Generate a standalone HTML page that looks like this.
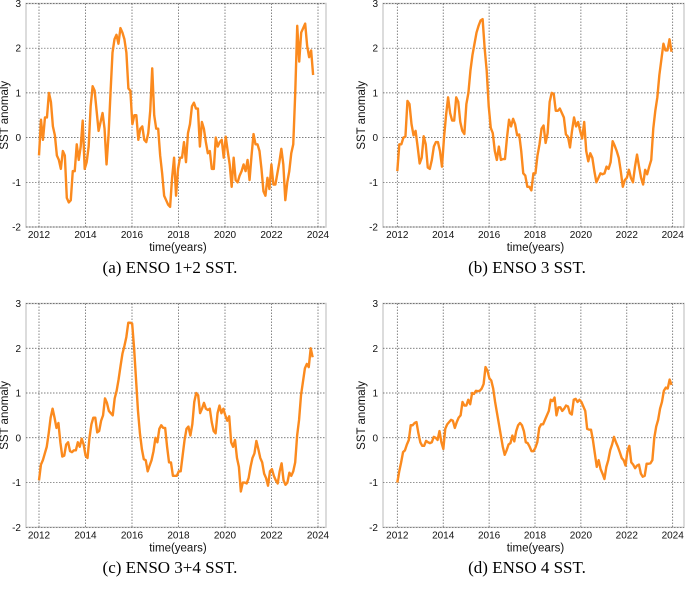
<!DOCTYPE html>
<html><head><meta charset="utf-8"><style>
body{margin:0;background:#fff;}
svg text{font-family:"Liberation Sans",sans-serif;}
.cap{font-family:"Liberation Serif",serif;font-size:17px;}
</style></head><body>
<svg id="s" width="685" height="593" viewBox="0 0 685 593" xmlns="http://www.w3.org/2000/svg">
<text class="cap" x="170" y="273" text-anchor="middle">(a) ENSO 1+2 SST.</text>
<text class="cap" x="527" y="273" text-anchor="middle">(b) ENSO 3 SST.</text>
<text class="cap" x="170" y="573" text-anchor="middle">(c) ENSO 3+4 SST.</text>
<text class="cap" x="527" y="573" text-anchor="middle">(d) ENSO 4 SST.</text>
</svg>
<script>
const yTicks=[-2,-1,0,1,2,3];
const xTicks=[2012,2014,2016,2018,2020,2022,2024];
const startA=2012.0, endA=2023.79;
const valsA=[-0.4,0.4,-0.05,0.45,0.45,1.0,0.8,0.25,0.05,-0.4,-0.5,-0.7,-0.3,-0.4,-1.35,-1.45,-1.4,-0.75,-0.75,-0.15,-0.5,-0.2,0.38,-0.7,-0.55,-0.2,0.7,1.15,1.05,0.6,0.15,0.35,0.55,0.2,-0.6,0.05,1.0,1.9,2.2,2.3,2.1,2.45,2.35,2.2,1.9,1.1,1.05,0.3,0.5,0.5,-0.05,0.2,0.25,-0.05,-0.1,0.1,0.6,1.55,0.5,0.2,0.2,-0.4,-0.8,-1.3,-1.4,-1.5,-1.55,-0.9,-0.45,-1.3,-0.7,-0.45,-0.45,-0.1,-0.55,0.1,0.3,0.7,0.78,0.65,0.65,-0.2,0.35,0.2,-0.1,-0.35,-0.3,-0.7,-0.7,0.0,-0.2,-0.1,-0.05,-0.45,0.02,-0.3,-0.6,-1.1,-0.45,-0.95,-1.0,-0.85,-0.75,-0.6,-0.75,-0.5,-0.95,-0.4,0.08,-0.15,-0.15,-0.3,-0.7,-1.2,-1.3,-0.9,-1.15,-0.6,-1.05,-1.05,-0.8,-0.55,-0.25,-0.6,-1.4,-1.0,-0.75,-0.35,-0.15,1.0,2.5,1.7,2.35,2.45,2.55,2.05,1.8,1.95,1.4];
const startB=2012.0, endB=2023.95;
const valsB=[-0.75,-0.15,-0.15,0.0,0.02,0.82,0.75,0.3,0.05,0.15,-0.2,-0.58,-0.45,0.03,-0.15,-0.67,-0.7,-0.5,-0.2,-0.1,-0.1,-0.3,-0.65,0.0,0.5,0.9,0.55,0.38,0.38,0.9,0.8,0.35,0.15,0.08,0.75,1.0,1.5,1.85,2.1,2.35,2.5,2.62,2.65,2.0,1.5,0.7,0.22,0.1,-0.3,-0.5,-0.2,-0.5,-0.48,-0.48,0.0,0.4,0.25,0.42,0.3,0.05,0.07,-0.3,-0.8,-0.85,-1.1,-1.1,-1.18,-0.8,-0.8,-0.4,-0.15,0.2,0.27,-0.12,0.1,0.8,1.0,0.98,0.6,0.6,0.65,0.55,0.45,0.07,0.02,-0.22,0.15,0.45,0.25,0.35,0.15,-0.02,0.35,-0.3,-0.53,-0.35,-0.45,-0.75,-1.0,-0.9,-0.8,-0.82,-0.8,-0.65,-0.7,-0.55,-0.08,-0.18,-0.3,-0.45,-0.75,-1.1,-0.95,-0.9,-0.72,-0.9,-1.0,-0.65,-0.38,-0.65,-0.9,-1.05,-0.72,-0.82,-0.65,-0.5,0.2,0.6,0.9,1.4,1.75,2.1,1.95,1.95,2.2,1.92];
const startC=2012.0, endC=2023.77;
const valsC=[-0.95,-0.6,-0.5,-0.35,-0.2,0.1,0.45,0.65,0.45,0.22,0.33,-0.1,-0.42,-0.4,-0.15,-0.1,-0.3,-0.32,-0.28,-0.28,-0.1,-0.2,-0.02,-0.15,-0.4,-0.45,0.0,0.3,0.45,0.45,0.12,0.15,0.38,0.5,0.88,0.78,0.6,0.55,0.5,0.88,1.05,1.3,1.6,1.88,2.05,2.25,2.57,2.57,2.55,2.0,1.3,0.6,0.1,-0.25,-0.48,-0.5,-0.75,-0.62,-0.5,-0.3,0.0,-0.1,0.2,0.28,0.22,0.22,-0.2,-0.55,-0.55,-0.85,-0.85,-0.85,-0.75,-0.75,-0.4,-0.05,0.2,0.25,0.05,0.3,0.8,1.0,0.95,0.55,0.65,0.78,0.65,0.62,0.65,0.35,0.15,0.1,0.55,0.72,0.55,0.65,0.5,0.38,0.48,-0.1,-0.2,-0.05,-0.45,-0.65,-1.2,-1.0,-1.0,-1.02,-0.9,-0.65,-0.45,-0.35,-0.07,-0.25,-0.45,-0.55,-0.8,-0.9,-1.07,-0.75,-0.7,-0.85,-0.95,-1.02,-0.75,-0.57,-0.95,-1.05,-1.0,-0.78,-0.85,-0.75,-0.55,0.05,0.4,0.95,1.25,1.55,1.65,1.58,2.0,1.8];
const startD=2012.0, endD=2023.95;
const valsD=[-1.0,-0.75,-0.55,-0.32,-0.28,-0.15,-0.05,0.28,0.28,0.33,0.35,0.1,-0.1,-0.18,-0.18,-0.07,-0.1,-0.12,-0.1,0.02,0.0,-0.05,0.15,-0.1,-0.25,0.2,0.3,0.35,0.4,0.38,0.22,0.35,0.45,0.5,0.8,0.72,0.72,0.85,0.75,1.0,0.98,1.05,1.04,1.05,1.1,1.2,1.58,1.5,1.33,1.28,1.1,0.8,0.55,0.3,0.05,-0.2,-0.38,-0.28,-0.15,-0.12,0.05,-0.08,0.15,0.28,0.33,0.28,0.15,-0.1,-0.12,-0.2,-0.3,-0.3,-0.22,-0.1,0.22,0.3,0.3,0.4,0.5,0.6,0.85,0.82,0.9,0.5,0.68,0.68,0.6,0.65,0.72,0.7,0.55,0.52,0.85,0.87,0.8,0.85,0.8,0.7,0.6,0.2,0.18,0.18,-0.05,-0.35,-0.65,-0.5,-0.7,-0.8,-0.92,-0.65,-0.5,-0.28,-0.15,0.02,-0.1,-0.2,-0.32,-0.45,-0.5,-0.62,-0.3,-0.18,-0.55,-0.6,-0.68,-0.62,-0.6,-0.8,-0.87,-0.85,-0.58,-0.58,-0.57,-0.5,0.0,0.25,0.4,0.65,0.8,1.05,1.12,1.1,1.3,1.18];

const NS='http://www.w3.org/2000/svg';
const svg=document.getElementById('s');
function mk(tag,at,parent){const e=document.createElementNS(NS,tag);for(const k in at)e.setAttribute(k,at[k]);(parent||svg).appendChild(e);return e;}
const panels=[
 {id:'a',vals:valsA,s:startA,e:endA,x0:39,x1:318,y3:3.5,ym2:227,bl:26,br:326},
 {id:'b',vals:valsB,s:startB,e:endB,x0:397.3,x1:672.7,y3:3.5,ym2:227,bl:383,br:684},
 {id:'c',vals:valsC,s:startC,e:endC,x0:39,x1:318,y3:303.5,ym2:527.3,bl:26,br:326},
 {id:'d',vals:valsD,s:startD,e:endD,x0:397.3,x1:672.7,y3:303.5,ym2:527.3,bl:383,br:684}
];
panels.forEach(p=>{
 const g=mk('g',{});
 
 
 const X=t=>p.x0+(t-2012)/12*(p.x1-p.x0);
 const Y=v=>p.ym2-(v+2)/5*(p.ym2-p.y3);
 const box=mk('rect',{x:p.bl,y:p.y3,width:p.br-p.bl,height:p.ym2-p.y3,fill:'none',stroke:'#d0d0d0','stroke-width':1.5},g);
 
 
 yTicks.forEach(v=>{
  const l=mk('line',{x1:p.bl,x2:p.br,y1:Y(v),y2:Y(v),stroke:'#555','stroke-width':0.7,'stroke-dasharray':'1.5,1.5'},g);
  
  
  const t=mk('text',{x:p.bl-5,y:Y(v)+3.5,'text-anchor':'end','font-size':10,fill:'#111'},g);
  t.textContent=v;
  
  
 });
 xTicks.forEach(v=>{
  const l=mk('line',{x1:X(v),x2:X(v),y1:p.y3,y2:p.ym2,stroke:'#555','stroke-width':0.7,'stroke-dasharray':'1.5,1.5'},g);
  
  
  const t=mk('text',{x:X(v),y:p.ym2+11,'text-anchor':'middle','font-size':10,fill:'#111'},g);
  t.textContent=v;
  
  
 });
 const n=p.vals.length;
 const pts=p.vals.map((v,i)=>X(p.s+i*(p.e-p.s)/(n-1)).toFixed(2)+','+Y(v).toFixed(2)).join(' ');
 const line=mk('polyline',{points:pts,fill:'none',stroke:'#fb8a1e','stroke-width':2.4,'stroke-linejoin':'round'},g);
 
 
 const xl=mk('text',{x:(p.bl+p.br)/2+2,y:p.ym2+24,'text-anchor':'middle','font-size':11.5,fill:'#111'},g);
 xl.textContent='time(years)';
 
 
 const yc=(p.y3+p.ym2)/2, yx=p.bl-18;
 const yl=mk('text',{x:yx,y:yc,'text-anchor':'middle','font-size':11.5,fill:'#111',transform:'rotate(-90 '+yx+' '+yc+')'},g);
 yl.textContent='SST anomaly';
 
 
});
</script>
</body></html>
